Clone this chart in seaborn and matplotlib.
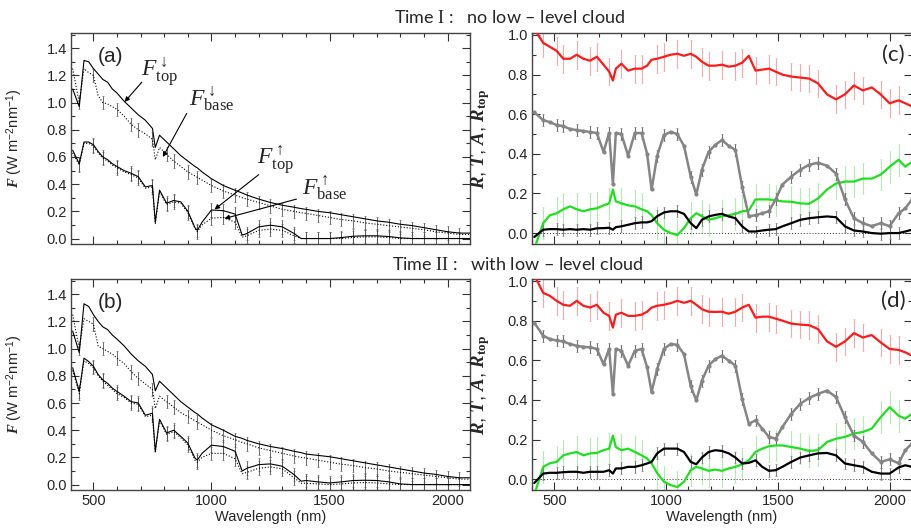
import numpy as np
import matplotlib
matplotlib.use("Agg")
import matplotlib.pyplot as plt
import seaborn as sns
from matplotlib.ticker import MultipleLocator

# ---- left panels: spectral fluxes (W m-2 nm-1) ----
WL_FLUX = [412, 440, 460, 480, 500, 520, 540, 560, 580, 600,
           630, 660, 690, 720, 750, 762, 780, 810, 840, 870,
           900, 930, 940, 960, 1000, 1050, 1100, 1130, 1150, 1200,
           1250, 1300, 1350, 1380, 1400, 1450, 1500, 1550, 1600, 1650,
           1700, 1750, 1800, 1850, 1900, 1950, 2000, 2050, 2100]

# Time I (panel a)
DN_TOP_A = [1.10, 0.97, 1.31, 1.30, 1.25, 1.21, 1.17, 1.15, 1.10, 1.07,
            1.01, 0.96, 0.91, 0.87, 0.81, 0.67, 0.76, 0.71, 0.66, 0.61,
            0.57, 0.53, 0.52, 0.49, 0.44, 0.39, 0.355, 0.335, 0.32, 0.29,
            0.265, 0.245, 0.23, 0.22, 0.215, 0.20, 0.19, 0.175, 0.16, 0.145,
            0.13, 0.12, 0.105, 0.095, 0.08, 0.065, 0.05, 0.04, 0.04]
DN_BASE_A = [1.25, 1.00, 1.25, 1.22, 1.20, 1.05, 1.00, 0.99, 0.97, 0.95,
             0.90, 0.84, 0.80, 0.77, 0.73, 0.58, 0.67, 0.62, 0.57, 0.53,
             0.49, 0.46, 0.45, 0.43, 0.39, 0.35, 0.32, 0.30, 0.29, 0.265,
             0.24, 0.215, 0.20, 0.19, 0.185, 0.17, 0.155, 0.14, 0.13, 0.115,
             0.105, 0.095, 0.085, 0.075, 0.065, 0.05, 0.04, 0.03, 0.03]
UP_TOP_A = [0.65, 0.55, 0.71, 0.71, 0.69, 0.64, 0.60, 0.58, 0.55, 0.53,
            0.50, 0.48, 0.455, 0.38, 0.39, 0.12, 0.356, 0.26, 0.28, 0.27,
            0.20, 0.08, 0.06, 0.12, 0.21, 0.205, 0.18, 0.025, 0.037, 0.086,
            0.098, 0.086, 0.037, 0.0, 0.0, 0.0, 0.0, 0.007, 0.017, 0.02,
            0.02, 0.015, 0.005, 0.0, 0.0, 0.0, 0.0, 0.0, 0.0]
UP_BASE_A = [0.63, 0.54, 0.70, 0.70, 0.68, 0.63, 0.59, 0.57, 0.54, 0.52,
             0.49, 0.47, 0.445, 0.37, 0.38, 0.11, 0.345, 0.25, 0.27, 0.26,
             0.19, 0.075, 0.05, 0.10, 0.15, 0.155, 0.12, 0.01, 0.02, 0.06,
             0.07, 0.06, 0.02, 0.0, 0.0, 0.0, 0.0, 0.0, 0.008, 0.012,
             0.012, 0.008, 0.0, 0.0, 0.0, 0.0, 0.0, 0.0, 0.0]

# Time II (panel b)
DN_TOP_B = [1.13, 0.97, 1.33, 1.31, 1.25, 1.20, 1.16, 1.14, 1.10, 1.07,
            1.02, 0.96, 0.91, 0.87, 0.81, 0.69, 0.76, 0.71, 0.66, 0.61,
            0.57, 0.53, 0.52, 0.49, 0.44, 0.40, 0.355, 0.34, 0.325, 0.30,
            0.28, 0.265, 0.245, 0.235, 0.225, 0.215, 0.205, 0.19, 0.175, 0.16,
            0.145, 0.13, 0.115, 0.10, 0.085, 0.075, 0.06, 0.05, 0.05]
DN_BASE_B = [1.25, 1.00, 1.22, 1.20, 1.18, 1.02, 1.00, 0.98, 0.96, 0.93,
             0.89, 0.83, 0.78, 0.74, 0.70, 0.56, 0.65, 0.61, 0.57, 0.53,
             0.50, 0.47, 0.46, 0.44, 0.40, 0.36, 0.33, 0.31, 0.30, 0.27,
             0.25, 0.23, 0.21, 0.20, 0.195, 0.18, 0.165, 0.15, 0.14, 0.125,
             0.115, 0.10, 0.09, 0.08, 0.07, 0.06, 0.05, 0.04, 0.04]
UP_TOP_B = [0.86, 0.685, 0.93, 0.905, 0.87, 0.81, 0.77, 0.745, 0.71, 0.685,
            0.65, 0.61, 0.60, 0.51, 0.525, 0.245, 0.48, 0.38, 0.40, 0.355,
            0.305, 0.195, 0.18, 0.23, 0.29, 0.28, 0.245, 0.10, 0.12, 0.147,
            0.152, 0.135, 0.073, 0.025, 0.03, 0.02, 0.012, 0.02, 0.03, 0.032,
            0.03, 0.02, 0.005, 0.0, 0.0, 0.0, 0.0, 0.0, 0.0]
UP_BASE_B = [0.84, 0.67, 0.91, 0.89, 0.86, 0.80, 0.76, 0.73, 0.70, 0.67,
             0.64, 0.60, 0.59, 0.50, 0.51, 0.24, 0.47, 0.37, 0.39, 0.345,
             0.29, 0.18, 0.165, 0.20, 0.23, 0.23, 0.19, 0.08, 0.09, 0.12,
             0.13, 0.115, 0.05, 0.01, 0.01, 0.005, 0.0, 0.005, 0.012, 0.015,
             0.012, 0.005, 0.0, 0.0, 0.0, 0.0, 0.0, 0.0, 0.0]

# ---- right panels: R, T, A, R_top ----
WL_RAD = [410, 450, 480, 510, 540, 570, 600, 630, 660, 690,
          720, 745, 762, 775, 800, 830, 860, 890, 915, 935,
          960, 990, 1020, 1050, 1080, 1110, 1135, 1160, 1190, 1220,
          1250, 1280, 1310, 1340, 1370, 1400, 1430, 1460, 1490, 1520,
          1560, 1600, 1640, 1680, 1720, 1760, 1800, 1840, 1880, 1920,
          1960, 2000, 2040, 2070, 2100]

RED_C = [1.03, 0.96, 0.94, 0.92, 0.88, 0.88, 0.90, 0.88, 0.87, 0.89,
         0.85, 0.815, 0.77, 0.83, 0.855, 0.82, 0.83, 0.83, 0.845, 0.875,
         0.88, 0.89, 0.90, 0.905, 0.895, 0.905, 0.89, 0.865, 0.845, 0.845,
         0.85, 0.84, 0.845, 0.86, 0.895, 0.82, 0.825, 0.83, 0.815, 0.80,
         0.79, 0.785, 0.78, 0.755, 0.70, 0.675, 0.70, 0.745, 0.72, 0.735,
         0.70, 0.655, 0.67, 0.655, 0.64]
GRAY_C = [0.61, 0.57, 0.56, 0.545, 0.54, 0.525, 0.52, 0.515, 0.51, 0.505,
          0.41, 0.505, 0.25, 0.505, 0.50, 0.39, 0.505, 0.505, 0.40, 0.22,
          0.39, 0.495, 0.51, 0.50, 0.44, 0.285, 0.195, 0.32, 0.41, 0.445,
          0.47, 0.44, 0.42, 0.235, 0.085, 0.09, 0.10, 0.11, 0.17, 0.245,
          0.285, 0.32, 0.345, 0.355, 0.34, 0.30, 0.17, 0.075, 0.05, 0.035,
          0.05, 0.035, 0.10, 0.125, 0.17]
GREEN_C = [-0.08, 0.05, 0.09, 0.10, 0.12, 0.135, 0.12, 0.11, 0.12, 0.125,
           0.14, 0.15, 0.22, 0.16, 0.15, 0.14, 0.135, 0.12, 0.11, 0.09,
           0.05, 0.017, 0.0, -0.01, 0.025, 0.075, 0.10, 0.085, 0.067, 0.075,
           0.085, 0.09, 0.097, 0.11, 0.114, 0.17, 0.17, 0.17, 0.165, 0.16,
           0.158, 0.15, 0.148, 0.175, 0.22, 0.25, 0.26, 0.26, 0.275, 0.275,
           0.295, 0.335, 0.37, 0.335, 0.36]
BLACK_C = [-0.02, 0.017, 0.02, 0.02, 0.017, 0.02, 0.017, 0.02, 0.017, 0.024,
           0.025, 0.027, 0.017, 0.03, 0.034, 0.042, 0.05, 0.054, 0.054, 0.06,
           0.085, 0.104, 0.11, 0.11, 0.097, 0.05, 0.025, 0.067, 0.084, 0.092,
           0.097, 0.084, 0.075, 0.034, 0.008, 0.008, 0.013, 0.017, 0.02, 0.034,
           0.05, 0.067, 0.075, 0.08, 0.084, 0.08, 0.034, 0.013, 0.008, 0.0,
           -0.003, 0.0, 0.0, 0.008, 0.017]

RED_D = [1.03, 0.94, 0.925, 0.90, 0.88, 0.875, 0.90, 0.875, 0.866, 0.88,
         0.84, 0.824, 0.765, 0.83, 0.84, 0.824, 0.824, 0.83, 0.845, 0.866,
         0.875, 0.88, 0.888, 0.90, 0.89, 0.90, 0.88, 0.858, 0.845, 0.844,
         0.845, 0.835, 0.845, 0.866, 0.88, 0.815, 0.82, 0.82, 0.81, 0.80,
         0.785, 0.78, 0.777, 0.757, 0.695, 0.668, 0.695, 0.737, 0.715, 0.727,
         0.69, 0.657, 0.652, 0.64, 0.623]
GRAY_D = [0.79, 0.724, 0.707, 0.70, 0.695, 0.682, 0.673, 0.668, 0.665, 0.657,
          0.58, 0.657, 0.43, 0.657, 0.648, 0.573, 0.648, 0.657, 0.565, 0.44,
          0.556, 0.657, 0.682, 0.678, 0.63, 0.47, 0.397, 0.497, 0.573, 0.606,
          0.623, 0.598, 0.573, 0.405, 0.28, 0.296, 0.255, 0.213, 0.204, 0.263,
          0.33, 0.38, 0.41, 0.43, 0.447, 0.414, 0.313, 0.22, 0.188, 0.13,
          0.087, 0.10, 0.08, 0.146, 0.18]
GREEN_D = [-0.08, 0.062, 0.08, 0.087, 0.12, 0.13, 0.137, 0.12, 0.13, 0.132,
           0.146, 0.154, 0.22, 0.162, 0.146, 0.154, 0.137, 0.12, 0.104, 0.08,
           0.03, -0.013, -0.03, -0.04, -0.013, 0.045, 0.062, 0.054, 0.042, 0.048,
           0.042, 0.054, 0.062, 0.075, 0.095, 0.137, 0.154, 0.166, 0.17, 0.17,
           0.162, 0.154, 0.142, 0.146, 0.188, 0.204, 0.213, 0.23, 0.238, 0.255,
           0.313, 0.363, 0.32, 0.305, 0.33]
BLACK_D = [-0.02, 0.028, 0.032, 0.032, 0.035, 0.037, 0.037, 0.032, 0.037, 0.037,
           0.037, 0.045, 0.028, 0.054, 0.054, 0.062, 0.062, 0.07, 0.079, 0.087,
           0.13, 0.154, 0.154, 0.154, 0.137, 0.087, 0.075, 0.109, 0.137, 0.146,
           0.142, 0.13, 0.109, 0.079, 0.082, 0.095, 0.062, 0.042, 0.045, 0.062,
           0.087, 0.109, 0.12, 0.13, 0.132, 0.12, 0.079, 0.07, 0.062, 0.037,
           0.028, 0.028, 0.059, 0.07, 0.062]

# uncertainty half-widths
ERR_FLUX = 0.05
ERR_RED, ERR_GRAY, ERR_GREEN, ERR_BLACK = 0.07, 0.03, 0.08, 0.03

TITLE_1 = "Time $\\mathrm{I}$ :   no low \u2013 level cloud"
TITLE_2 = "Time $\\mathrm{II}$ :   with low \u2013 level cloud"


sns.set_style("ticks")
plt.rcParams["font.family"] = ["Liberation Sans", "DejaVu Sans"]
plt.rcParams["mathtext.fontset"] = "custom"
plt.rcParams["mathtext.rm"] = "Liberation Serif"
plt.rcParams["mathtext.it"] = "Liberation Serif:italic"
plt.rcParams["mathtext.bf"] = "Liberation Serif:bold"
plt.rcParams["mathtext.sf"] = "Liberation Sans"
HAS_BFIT = "mathtext.bfit" in plt.rcParams
if HAS_BFIT:
    plt.rcParams["mathtext.bfit"] = "Liberation Serif:italic:bold"


def bfit(s):
    return f"\\mathbfit{{{s}}}" if HAS_BFIT else f"\\mathit{{{s}}}"


def bar_idx(wl):
    wl = np.asarray(wl)
    return sorted({int(np.abs(wl - w).argmin()) for w in range(450, 2101, 50)})


def style_axes(ax, xlim, ylim, ymajor, yminor, bottom_labels):
    ax.set_xlim(*xlim)
    ax.set_ylim(*ylim)
    ax.xaxis.set_major_locator(MultipleLocator(500))
    ax.xaxis.set_minor_locator(MultipleLocator(100))
    ax.yaxis.set_major_locator(MultipleLocator(ymajor))
    ax.yaxis.set_minor_locator(MultipleLocator(yminor))
    ax.yaxis.set_major_formatter(plt.FormatStrFormatter("%.1f"))
    ax.tick_params(which="both", direction="in", top=True, right=True, color="#333333", width=0.8)
    ax.tick_params(which="major", length=6, labelsize=10.5, pad=3)
    ax.tick_params(which="minor", length=3)
    for sp in ax.spines.values():
        sp.set_color("#444444")
        sp.set_linewidth(1.0)
    if bottom_labels:
        ax.set_xlabel("Wavelength (nm)", fontsize=10.5, labelpad=1)
    else:
        ax.tick_params(axis="x", labelbottom=False)
        ax.set_xlabel("")


def flux_panel(ax, dn_top, dn_base, up_top, up_base, tag, bottom_labels):
    wl = np.asarray(WL_FLUX)
    idx = bar_idx(wl)
    for series in (dn_base, up_top, up_base):
        y = np.asarray(series)
        ax.errorbar(wl[idx], y[idx], yerr=ERR_FLUX, fmt="none", ecolor="#555555",
                    elinewidth=0.6, capsize=0.8, capthick=0.4, zorder=1)
    for series, ls in ((dn_top, "-"), (dn_base, ":"), (up_top, "-"), (up_base, ":")):
        sns.lineplot(x=wl, y=series, ax=ax, color="black", linewidth=0.8,
                     linestyle=ls, sort=False, estimator=None, zorder=2)
    style_axes(ax, (405, 2095), (-0.04, 1.512), 0.2, 0.1, bottom_labels)
    ax.set_ylabel("$" + bfit("F") + "$ (W m$^{\\mathsf{-2}}$nm$^{\\mathsf{-1}}$)", fontsize=10.5)
    ax.yaxis.set_label_coords(-0.115, 0.5)
    ax.text(0.098, 0.89, tag, transform=ax.transAxes, fontsize=15, ha="center", va="center")


def ratio_panel(ax, red, gray, green, black, tag, bottom_labels):
    wl = np.asarray(WL_RAD)
    idx = bar_idx(wl)
    bars = ((red, ERR_RED, "#f4a8a8"), (green, ERR_GREEN, "#b0ecb0"),
            (gray, ERR_GRAY, "#707070"), (black, ERR_BLACK, "#808080"))
    for series, err, col in bars:
        y = np.asarray(series)
        ax.errorbar(wl[idx], y[idx], yerr=err, fmt="none", ecolor=col,
                    elinewidth=0.8, capsize=0.8, capthick=0.4, zorder=1)
    ax.axhline(0, color="#333333", linewidth=0.7, linestyle=(0, (1, 2)), zorder=1)
    sns.lineplot(x=wl, y=red, ax=ax, color="#ff1a1a", linewidth=1.6, sort=False, estimator=None, zorder=3)
    sns.lineplot(x=wl, y=green, ax=ax, color="#1ee01e", linewidth=1.6, sort=False, estimator=None, zorder=3)
    sns.lineplot(x=wl, y=gray, ax=ax, color="#858585", linewidth=1.8, marker="o", markersize=3,
                 markeredgewidth=0, sort=False, estimator=None, zorder=3)
    sns.lineplot(x=wl, y=black, ax=ax, color="black", linewidth=1.6, sort=False, estimator=None, zorder=4)
    style_axes(ax, (400, 2100), (-0.055, 1.01), 0.2, 0.1, bottom_labels)
    lab = "$" + bfit("R") + "$, $" + bfit("T") + "$, $" + bfit("A") + "$, $" + bfit("R") + "_{\\mathbf{top}}$"
    ax.set_ylabel(lab, fontsize=13.5)
    ax.yaxis.set_label_coords(-0.105, 0.5)
    ax.text(0.95, 0.895, tag, transform=ax.transAxes, fontsize=16, ha="center", va="center",
            family=["Lato", "DejaVu Sans"])


fig = plt.figure(figsize=(9.11, 5.32), dpi=100)
ax_a = fig.add_axes([71 / 911, 0.5414, 399 / 911, 0.3966])
ax_c = fig.add_axes([532 / 911, 0.5414, 380 / 911, 0.3966])
ax_b = fig.add_axes([71 / 911, 0.0789, 399 / 911, 0.3966])
ax_d = fig.add_axes([532 / 911, 0.0789, 380 / 911, 0.3966])

flux_panel(ax_a, DN_TOP_A, DN_BASE_A, UP_TOP_A, UP_BASE_A, "(a)", False)
flux_panel(ax_b, DN_TOP_B, DN_BASE_B, UP_TOP_B, UP_BASE_B, "(b)", True)
ratio_panel(ax_c, RED_C, GRAY_C, GREEN_C, BLACK_C, "(c)", False)
ratio_panel(ax_d, RED_D, GRAY_D, GREEN_D, BLACK_D, "(d)", True)

# flux labels with arrows in panel (a)
arrow = dict(arrowstyle="-|>", color="black", lw=0.8, mutation_scale=7, shrinkA=0, shrinkB=0)
labels = [
    ("$F_{\\mathrm{top}}^{\\downarrow}$", (632, 1.005), (780, 1.22), (705, 1.15)),
    ("$F_{\\mathrm{base}}^{\\downarrow}$", (794, 0.60), (1000, 1.02), (895, 0.92)),
    ("$F_{\\mathrm{top}}^{\\uparrow}$", (1013, 0.214), (1270, 0.57), (1200, 0.47)),
    ("$F_{\\mathrm{base}}^{\\uparrow}$", (1055, 0.147), (1480, 0.37), (1360, 0.29)),
]
for text, tip, pos, tail in labels:
    ax_a.text(pos[0], pos[1], text, fontsize=17, ha="center", va="center")
    ax_a.annotate("", xy=tip, xytext=tail, arrowprops=arrow)

fig.text(0.559, 0.967, TITLE_1, fontsize=13, ha="center", va="center", family=["Lato", "DejaVu Sans"])
fig.text(0.568, 0.502, TITLE_2, fontsize=13, ha="center", va="center", family=["Lato", "DejaVu Sans"])

fig.savefig("out.png", dpi=100)
